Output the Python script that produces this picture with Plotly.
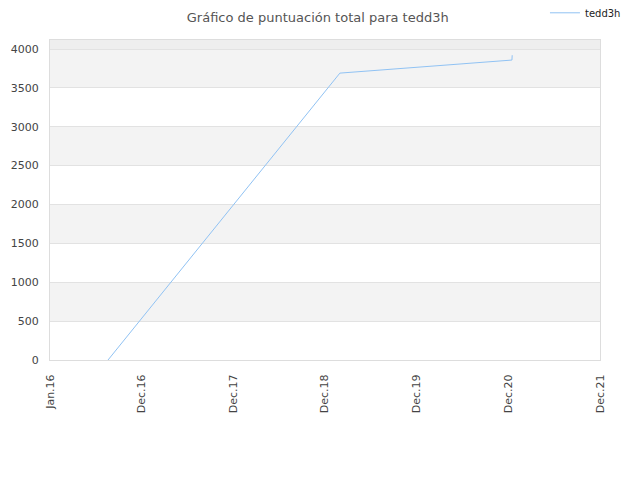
import plotly.graph_objects as go

# datos de la serie
fechas = ["2016-08-16", "2019-02-13", "2020-12-20", "2020-12-21"]
puntos = [0, 3690, 3858, 3920]

# ticks del eje x
tick_fechas = ["2016-01-01", "2016-12-26", "2017-12-21", "2018-12-16",
               "2019-12-11", "2020-12-05", "2021-12-01"]
tick_textos = ["Jan.16", "Dec.16", "Dec.17", "Dec.18", "Dec.19", "Dec.20", "Dec.21"]

y_max = 4116
bandas = [(500, 1000), (1500, 2000), (2500, 3000), (3500, 4000)]

fig = go.Figure()
fig.add_trace(go.Scatter(
    x=fechas, y=puntos, mode="lines", name="tedd3h",
    line=dict(color="#90c2f3", width=1),
))

# bandas alternas de fondo
shapes = []
for y0, y1 in bandas:
    shapes.append(dict(type="rect", xref="paper", yref="y", x0=0, x1=1,
                       y0=y0, y1=y1, fillcolor="#f3f3f3", line_width=0, layer="below"))
shapes.append(dict(type="rect", xref="paper", yref="y", x0=0, x1=1,
                   y0=4000, y1=y_max, fillcolor="#eeeeee", line_width=0, layer="below"))

# la página añade 8px de margen al body, se compensa aquí
fig.update_layout(
    width=640, height=480,
    margin=dict(l=42, r=48, t=32, b=128, autoexpand=False),
    paper_bgcolor="white", plot_bgcolor="white",
    font=dict(family="DejaVu Sans", size=11, color="#444"),
    title=dict(text="Gráfico de puntuación total para tedd3h", x=0.484, xanchor="center",
               xref="container", yref="container",
               y=0.99, yanchor="top", font=dict(size=13, color="#555")),
    showlegend=True,
    legend=dict(x=0.839, xanchor="left", y=0.99, yanchor="middle",
                xref="container", yref="container", itemwidth=30,
                font=dict(size=10, color="#222"), bgcolor="rgba(0,0,0,0)"),
    shapes=shapes,
)
fig.update_xaxes(
    type="date", range=[tick_fechas[0], tick_fechas[-1]],
    tickvals=tick_fechas, ticktext=tick_textos, tickangle=-90, automargin=False,
    showgrid=False, showline=True, linecolor="#dddddd", mirror=True,
    ticks="", ticklabelstandoff=9,
)
fig.update_yaxes(
    range=[0, y_max], tickvals=[0, 500, 1000, 1500, 2000, 2500, 3000, 3500, 4000],
    automargin=False,
    showgrid=True, gridcolor="#e2e2e2", showline=True, linecolor="#dddddd", mirror=True,
    zeroline=False, ticks="", ticklabelstandoff=8,
)

fig.write_html("out.html")
